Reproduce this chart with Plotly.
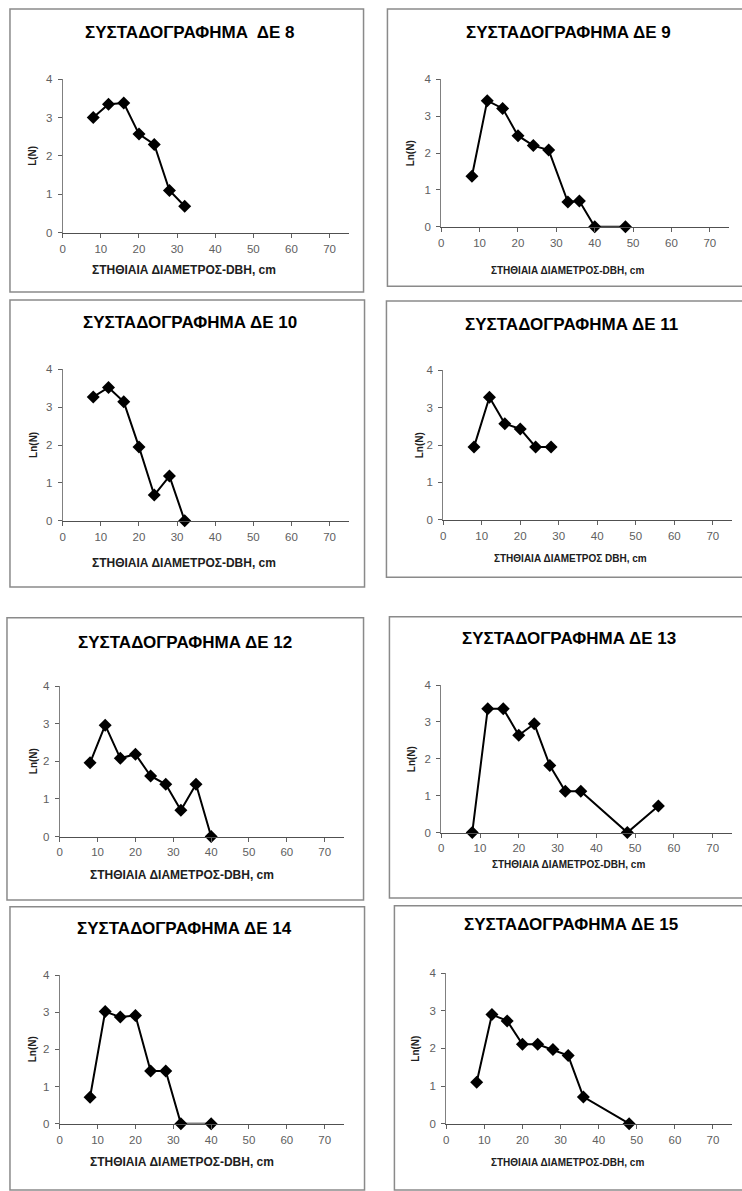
import plotly.graph_objects as go

W, H = 742, 1191

# ---- data ----
titles = ["ΣΥΣΤΑΔΟΓΡΑΦΗΜΑ  ΔΕ 8", "ΣΥΣΤΑΔΟΓΡΑΦΗΜΑ ΔΕ 9", "ΣΥΣΤΑΔΟΓΡΑΦΗΜΑ ΔΕ 10",
          "ΣΥΣΤΑΔΟΓΡΑΦΗΜΑ ΔΕ 11", "ΣΥΣΤΑΔΟΓΡΑΦΗΜΑ ΔΕ 12", "ΣΥΣΤΑΔΟΓΡΑΦΗΜΑ ΔΕ 13",
          "ΣΥΣΤΑΔΟΓΡΑΦΗΜΑ ΔΕ 14", "ΣΥΣΤΑΔΟΓΡΑΦΗΜΑ ΔΕ 15"]
x_titles = ["ΣΤΗΘΙΑΙΑ ΔΙΑΜΕΤΡΟΣ-DBH, cm", "ΣΤΗΘΙΑΙΑ ΔΙΑΜΕΤΡΟΣ-DBH, cm",
            "ΣΤΗΘΙΑΙΑ ΔΙΑΜΕΤΡΟΣ-DBH, cm", "ΣΤΗΘΙΑΙΑ ΔΙΑΜΕΤΡΟΣ DBH, cm",
            "ΣΤΗΘΙΑΙΑ ΔΙΑΜΕΤΡΟΣ-DBH, cm", "ΣΤΗΘΙΑΙΑ ΔΙΑΜΕΤΡΟΣ-DBH, cm",
            "ΣΤΗΘΙΑΙΑ ΔΙΑΜΕΤΡΟΣ-DBH, cm", "ΣΤΗΘΙΑΙΑ ΔΙΑΜΕΤΡΟΣ-DBH, cm"]
y_titles = ["L(N)", "Ln(N)", "Ln(N)", "Ln(N)", "Ln(N)", "Ln(N)", "Ln(N)", "Ln(N)"]

dbh_de8 = [8, 12, 16, 20, 24, 28, 32]
ln_de8 = [3.0, 3.35, 3.38, 2.57, 2.3, 1.1, 0.69]

dbh_de9 = [8, 12, 16, 20, 24, 28, 33, 36, 40, 48]
ln_de9 = [1.37, 3.42, 3.21, 2.47, 2.2, 2.08, 0.67, 0.7, 0.0, 0.0]

dbh_de10 = [8, 12, 16, 20, 24, 28, 32]
ln_de10 = [3.27, 3.52, 3.14, 1.95, 0.68, 1.18, 0.0]

dbh_de11 = [8, 12, 16, 20, 24, 28]
ln_de11 = [1.95, 3.28, 2.57, 2.43, 1.95, 1.95]

dbh_de12 = [8, 12, 16, 20, 24, 28, 32, 36, 40]
ln_de12 = [1.96, 2.96, 2.08, 2.19, 1.61, 1.39, 0.7, 1.39, 0.0]

dbh_de13 = [8, 12, 16, 20, 24, 28, 32, 36, 48, 56]
ln_de13 = [0.0, 3.36, 3.36, 2.64, 2.95, 1.82, 1.12, 1.12, 0.0, 0.72]

dbh_de14 = [8, 12, 16, 20, 24, 28, 32, 40]
ln_de14 = [0.71, 3.02, 2.87, 2.91, 1.42, 1.42, 0.0, 0.0]

dbh_de15 = [8, 12, 16, 20, 24, 28, 32, 36, 48]
ln_de15 = [1.1, 2.9, 2.73, 2.11, 2.11, 1.97, 1.81, 0.71, 0.0]

x_ticks = [0, 10, 20, 30, 40, 50, 60, 70]
y_ticks = [0, 1, 2, 3, 4]

series = [(dbh_de8, ln_de8), (dbh_de9, ln_de9), (dbh_de10, ln_de10), (dbh_de11, ln_de11),
          (dbh_de12, ln_de12), (dbh_de13, ln_de13), (dbh_de14, ln_de14), (dbh_de15, ln_de15)]

# ---- layout geometry (pixels) ----
# plot area: x_left(value 0), x_right(value 75), y_bottom(value 0), y_top(value 4)
plots = [(60, 347, 229, 74), (440, 729, 223, 74),
         (60, 347, 520, 367), (442, 732, 519, 368),
         (57, 342, 839, 687), (440, 732, 835, 686),
         (57, 342, 1129, 979), (445, 732, 1129, 977)]
boxes = [(7, 3, 362, 289), (386, 3, 746, 283),
         (7, 297, 363, 587), (385, 298, 746, 577),
         (4, 618, 362, 903), (388, 617, 746, 901),
         (7, 910, 363, 1196), (393, 909, 746, 1196)]
title_pos = [(187, 27), (568, 27), (188, 320), (571, 322),
             (183, 643), (568, 639), (182, 932), (570, 928)]
xt_pos = [(182, 267), (567, 267), (182, 563), (570, 558),
          (180, 878), (568, 867), (180, 1168), (567, 1168)]
xt_size = [12, 10, 12, 10, 12, 10, 12, 10]
yt_x = [30, 409, 30, 418, 30, 410, 30, 414]


def px(x):
    return x / W


def py(y):
    return 1 - y / H


fig = go.Figure()
annotations = []
shapes = []
font_fam = "Liberation Sans, Arial, sans-serif"

for i, ((xs, ys), (xl, xr, yb, yt)) in enumerate(zip(series, plots)):
    n = i + 1
    xa = "x" if n == 1 else f"x{n}"
    ya = "y" if n == 1 else f"y{n}"
    fig.add_trace(go.Scatter(
        x=xs, y=ys, mode="lines+markers", xaxis=xa, yaxis=ya,
        line=dict(color="black", width=2),
        marker=dict(symbol="diamond", size=10, color="black"),
        cliponaxis=False, showlegend=False))
    xkey = "xaxis" if n == 1 else f"xaxis{n}"
    ykey = "yaxis" if n == 1 else f"yaxis{n}"
    fig.update_layout(**{
        xkey: dict(domain=[px(xl), px(xr)], range=[0, 75], anchor=ya,
                   tickvals=x_ticks, ticks="outside", ticklen=4, tickcolor="#606060",
                   showline=True, linecolor="#505050", linewidth=1.2,
                   showgrid=False, zeroline=False, fixedrange=True,
                   tickfont=dict(family=font_fam, size=11.5, color="#606060"),
                   ticklabelstandoff=1),
        ykey: dict(domain=[py(yb), py(yt)], range=[0, 4], anchor=xa,
                   tickvals=y_ticks, ticks="outside", ticklen=4, tickcolor="#606060",
                   showline=True, linecolor="#808080", linewidth=1.2,
                   showgrid=False, zeroline=False, fixedrange=True,
                   tickfont=dict(family=font_fam, size=11.5, color="#606060"),
                   ticklabelstandoff=3),
    })
    tx, ty = title_pos[i]
    annotations.append(dict(text=f"<b>{titles[i]}</b>", x=px(tx), y=py(ty),
                            xref="paper", yref="paper", showarrow=False,
                            xanchor="center", yanchor="middle",
                            font=dict(family=font_fam, size=17, color="black")))
    ax, ay = xt_pos[i]
    annotations.append(dict(text=f"<b>{x_titles[i]}</b>", x=px(ax), y=py(ay),
                            xref="paper", yref="paper", showarrow=False,
                            xanchor="center", yanchor="middle",
                            font=dict(family=font_fam, size=xt_size[i], color="#202020")))
    annotations.append(dict(text=f"<b>{y_titles[i]}</b>", x=px(yt_x[i]), y=py((yb + yt) / 2),
                            xref="paper", yref="paper", showarrow=False, textangle=-90,
                            xanchor="center", yanchor="middle",
                            font=dict(family=font_fam, size=10, color="#202020")))
    bx0, by0, bx1, by1 = boxes[i]
    shapes.append(dict(type="rect", xref="paper", yref="paper",
                       x0=px(bx0), x1=px(bx1), y0=py(by1), y1=py(by0),
                       line=dict(color="#8a8a8a", width=1.5), fillcolor="rgba(0,0,0,0)",
                       layer="below"))

fig.update_layout(width=W, height=H, margin=dict(l=0, r=0, t=0, b=0),
                  paper_bgcolor="white", plot_bgcolor="white",
                  annotations=annotations, shapes=shapes, showlegend=False)

fig.write_html("out.html", config={"displayModeBar": False})
